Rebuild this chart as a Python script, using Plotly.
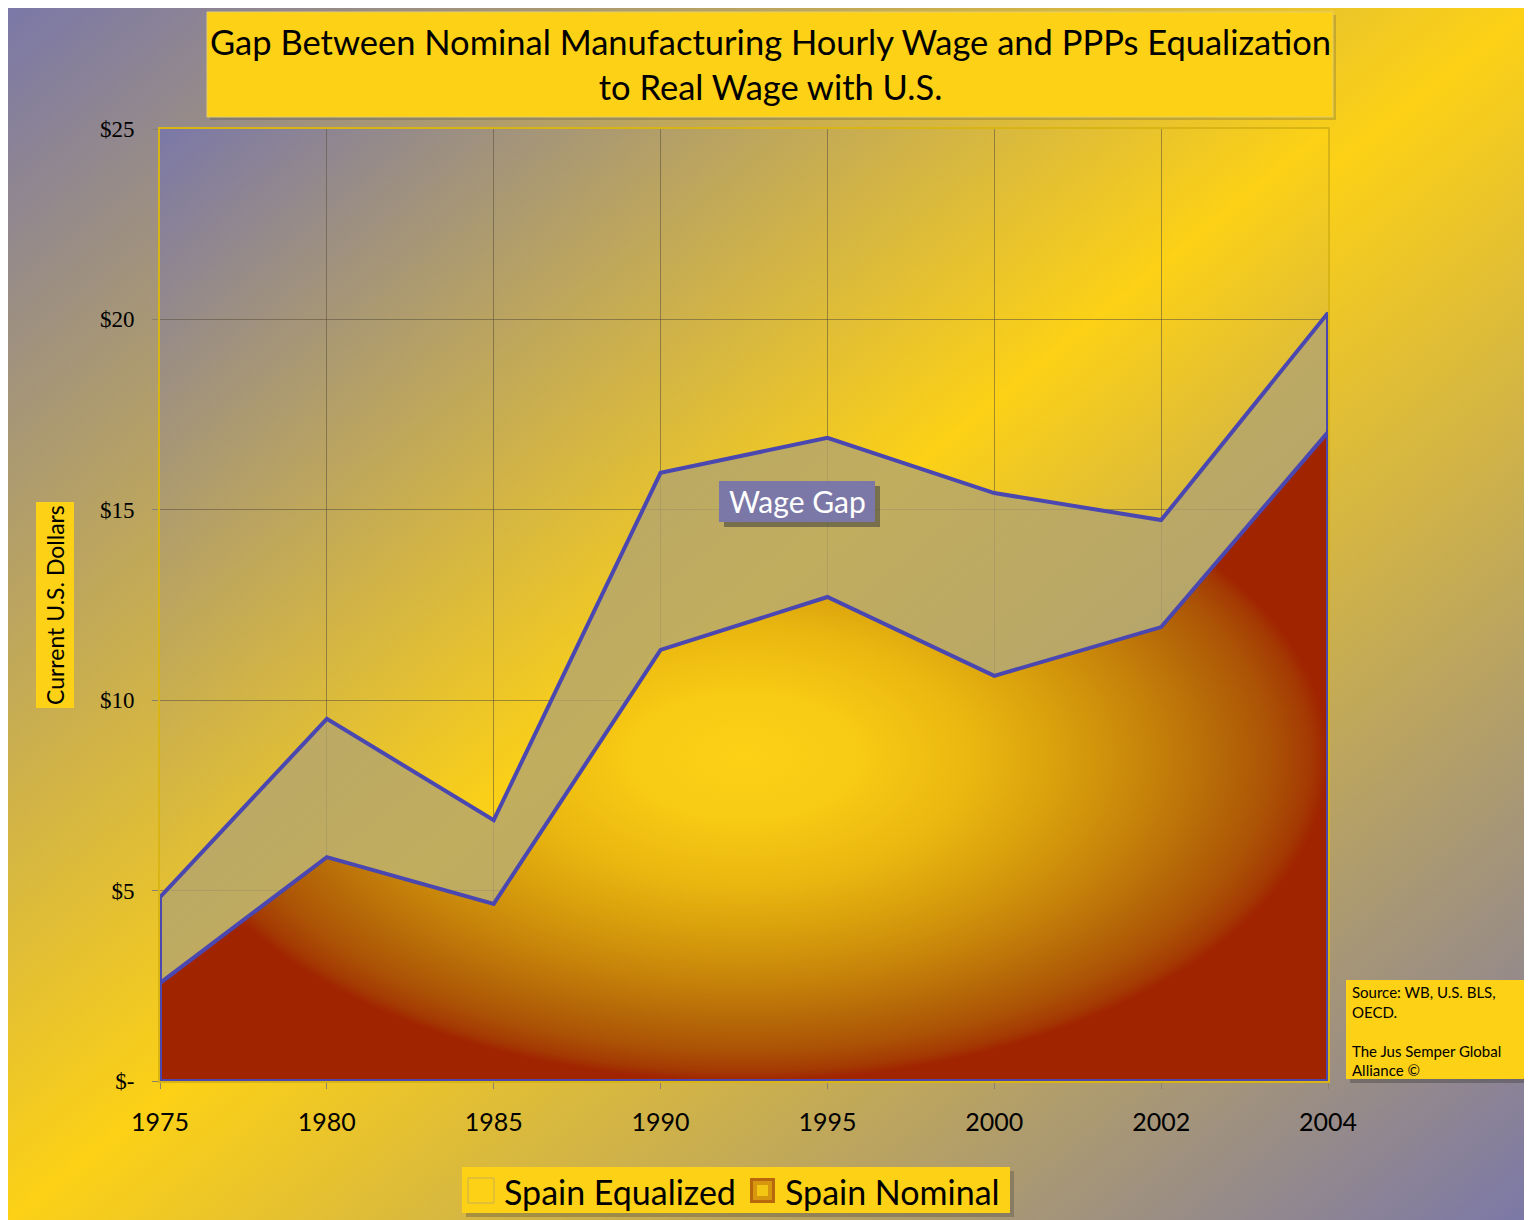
import base64
import plotly.graph_objects as go

# values (current U.S. dollars per hour)
years = ['1975', '1980', '1985', '1990', '1995', '2000', '2002', '2004']
spain_equalized = [4.83, 9.51, 6.85, 15.97, 16.89, 15.44, 14.73, 20.17]
spain_nominal = [2.57, 5.88, 4.65, 11.32, 12.71, 10.64, 11.92, 17.04]
y_tick_vals = [0, 5, 10, 15, 20, 25]
y_tick_text = ['$-', '$5', '$10', '$15', '$20', '$25']

# page is drawn with an 8px body margin
OFF = 8
W, H = 1532 - OFF, 1220 - OFF
# plot area in screen pixels
L, R, T, B = 160, 1328, 129, 1081

PURPLE = '#7b78a8'
YELLOW = '#fcd116'
LINE = '#4a47b0'
SANS = 'Lato, Open Sans, sans-serif'


def px(x):
    return (x - L) / (R - L)


def py(y):
    return (B - y) / (B - T)


def svg_uri(stops):
    st = ''.join('<stop offset="%s" stop-color="%s"/>' % s for s in stops)
    svg = ('<svg xmlns="http://www.w3.org/2000/svg" width="100" height="100" '
           'preserveAspectRatio="none" viewBox="0 0 100 100">'
           '<defs><linearGradient id="g" x1="0" y1="0" x2="1" y2="1">' + st +
           '</linearGradient></defs><rect width="100" height="100" fill="url(#g)"/></svg>')
    return 'data:image/svg+xml;base64,' + base64.b64encode(svg.encode()).decode()


def outline(vals):
    # closed area outline, like the Excel area series
    return years + [years[-1], years[0], years[0]], vals + [0, 0, vals[0]]


fig = go.Figure()

xe, ye = outline(spain_equalized)
fig.add_trace(go.Scatter(
    x=xe, y=ye, mode='lines', fill='toself',
    fillcolor='rgba(178,164,112,0.8)',
    line=dict(color=LINE, width=4),
    showlegend=False, hoverinfo='skip'))

xn, yn = outline(spain_nominal)
fig.add_trace(go.Scatter(
    x=xn, y=yn, mode='lines', fill='toself',
    fillgradient=dict(type='radial', colorscale=[
        [0, '#fcd116'], [0.2, '#f7ca14'], [0.4, '#e9b610'],
        [0.55, '#d89e0c'], [0.68, '#c8860a'], [0.8, '#b86c08'],
        [0.9, '#ac5406'], [0.97, '#a43a03'], [1, '#a02400']]),
    line=dict(color=LINE, width=4),
    showlegend=False, hoverinfo='skip'))

shapes = []
annotations = []


def rect(x0, y0, x1, y1, color, lw=0, lc=None):
    shapes.append(dict(type='rect', xref='paper', yref='paper', layer='above',
                       x0=px(x0), x1=px(x1), y0=py(y0), y1=py(y1),
                       fillcolor=color, line=dict(width=lw, color=lc or color)))


def box(x0, y0, x1, y1, color, shadow=0.35, off=4, border=None):
    if shadow:
        rect(x0 + off, y0 + off, x1 + off, y1 + off, 'rgba(60,60,60,%s)' % shadow)
    rect(x0, y0, x1, y1, color, 1 if border else 0, border)


def label(x, y, text, size, color='black', **kw):
    d = dict(xref='paper', yref='paper', x=px(x), y=py(y), showarrow=False,
             xanchor='center', yanchor='middle', text=text,
             font=dict(family=SANS, size=size, color=color))
    d.update(kw)
    annotations.append(d)


# title
box(207, 12, 1333, 117, YELLOW, shadow=0.22, off=3, border='#e6cf6a')
label(770, 64, 'Gap Between Nominal Manufacturing Hourly Wage and PPPs Equalization<br>'
               'to Real Wage with U.S.', 34.5)

# y-axis title
box(36, 502, 74, 708, YELLOW, shadow=0)
label(55, 605, 'Current U.S. Dollars', 23, textangle=-90)

# wage gap label
box(719, 481, 875, 522, PURPLE, shadow=0.55, off=5)
label(797, 501, 'Wage Gap', 30, color='white')

# source note
box(1346, 980, 1527, 1079, YELLOW, shadow=0.4, off=4)
label(1350, 981, 'Source: WB, U.S. BLS,<br>OECD.<br><br>The Jus Semper Global<br>Alliance ©',
      15, xanchor='left', yanchor='top', align='left')

# legend
box(462, 1167, 1010, 1213, YELLOW, shadow=0.3, off=4)
rect(468, 1178, 494, 1203, 'rgba(0,0,0,0)', 1, '#c8ae50')
label(502, 1191, 'Spain Equalized', 34, xanchor='left')
rect(750, 1178, 775, 1203, '#b8680a')
rect(753, 1181, 772, 1200, '#d6960e')
rect(757, 1185, 768, 1196, '#f4c614')
label(783, 1191, 'Spain Nominal', 34, xanchor='left')

images = [
    dict(source=svg_uri([('0', PURPLE), ('0.5', YELLOW), ('1', PURPLE)]),
         xref='paper', yref='paper', x=px(OFF), y=py(OFF),
         sizex=W / (R - L), sizey=H / (B - T),
         xanchor='left', yanchor='top', sizing='stretch', layer='below'),
    dict(source=svg_uri([('0', PURPLE), ('0.5', YELLOW), ('1', PURPLE)]),
         xref='paper', yref='paper', x=0, y=1, sizex=1, sizey=1,
         xanchor='left', yanchor='top', sizing='stretch', layer='below'),
]

fig.update_layout(
    width=W, height=H,
    margin=dict(l=L - OFF, r=1532 - R, t=T - OFF, b=1220 - B),
    paper_bgcolor='rgba(0,0,0,0)',
    plot_bgcolor='rgba(0,0,0,0)',
    images=images, shapes=shapes, annotations=annotations,
    showlegend=False,
    xaxis=dict(type='category', range=[0, len(years) - 1],
               showgrid=True, gridcolor='rgba(90,80,60,0.55)', gridwidth=1,
               showline=True, linecolor='#d8b414', linewidth=2, mirror=True,
               ticks='outside', ticklen=6, tickcolor='#8a8070',
               ticklabelstandoff=12,
               tickfont=dict(family=SANS, size=25, color='black'),
               zeroline=False),
    yaxis=dict(range=[0, 25], tickvals=y_tick_vals, ticktext=y_tick_text,
               showgrid=True, gridcolor='rgba(90,80,60,0.55)', gridwidth=1,
               showline=True, linecolor='#d8b414', linewidth=2, mirror=True,
               ticks='outside', ticklen=6, tickcolor='#8a8070',
               ticklabelstandoff=13,
               tickfont=dict(family='Liberation Serif, serif', size=23, color='black'),
               zeroline=False),
)

fig.write_html("out.html")
